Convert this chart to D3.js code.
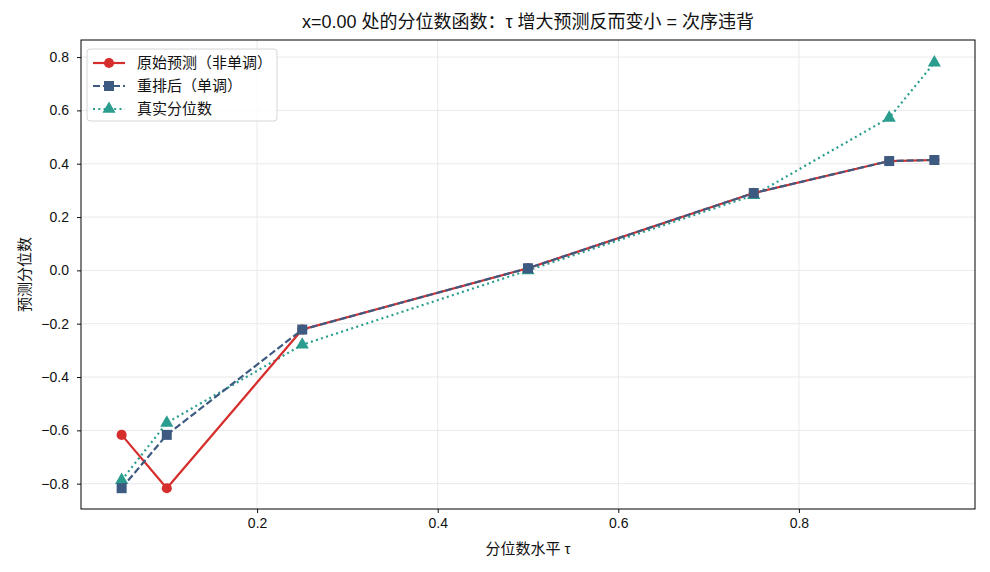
<!DOCTYPE html>
<html>
<head>
<meta charset="utf-8">
<script src="https://cdn.jsdelivr.net/npm/d3@7"></script>
<style>
  body { margin: 0; background: #fff; }
  svg { font-family: "Liberation Sans", "Noto Sans CJK SC", sans-serif; }
</style>
</head>
<body>
<div id="chart"></div>
<script>
// quantile levels and the three curves at x = 0
var taus = [0.05, 0.1, 0.25, 0.5, 0.75, 0.9, 0.95];
var rawPred = [-0.617, -0.817, -0.222, 0.008, 0.290, 0.410, 0.414];
var sortedPred = [-0.817, -0.617, -0.222, 0.008, 0.290, 0.410, 0.414];
var trueQ = [-0.787, -0.572, -0.279, 0.0, 0.282, 0.572, 0.779];

var xTicks = [0.2, 0.4, 0.6, 0.8];
var yTicks = [-0.8, -0.6, -0.4, -0.2, 0.0, 0.2, 0.4, 0.6, 0.8];

var W = 990, H = 572;
var margin = {top: 40, right: 15, bottom: 63, left: 81},
  width = W - margin.left - margin.right,
  height = H - margin.top - margin.bottom;

var x = d3.scaleLinear().domain([0.005, 0.995]).range([0, width]);
var y = d3.scaleLinear().domain([-0.895, 0.864]).range([height, 0]);

var svg = d3.select("#chart").append("svg")
  .attr("width", W)
  .attr("height", H);

var g = svg.append("g")
  .attr("transform", "translate(" + margin.left + "," + margin.top + ")");

// grid
g.append("g")
  .selectAll("line")
  .data(xTicks)
  .enter().append("line")
    .attr("x1", d => x(d)).attr("x2", d => x(d))
    .attr("y1", 0).attr("y2", height)
    .attr("stroke", "#e3e3e3").attr("stroke-width", 0.8);
g.append("g")
  .selectAll("line")
  .data(yTicks)
  .enter().append("line")
    .attr("y1", d => y(d)).attr("y2", d => y(d))
    .attr("x1", 0).attr("x2", width)
    .attr("stroke", "#e3e3e3").attr("stroke-width", 0.8);

// axes
var xAxis = g.append("g")
  .attr("transform", "translate(0," + height + ")")
  .call(d3.axisBottom(x).tickValues(xTicks).tickFormat(d3.format(".1f")).tickSize(4).tickPadding(5));
var yAxis = g.append("g")
  .call(d3.axisLeft(y).tickValues(yTicks)
    .tickFormat(d => d3.format(".1f")(d).replace("-", "\u2212")).tickSize(4).tickPadding(8));
[xAxis, yAxis].forEach(a => {
  a.select(".domain").remove();
  a.selectAll("text").style("font-size", "14px").attr("fill", "#111");
  a.selectAll("line").attr("stroke", "#111");
});

g.append("rect")
  .attr("width", width)
  .attr("height", height)
  .attr("fill", "none")
  .attr("stroke", "#000")
  .attr("stroke-width", 1);

// series
var series = [
  {name: "真实分位数", vals: trueQ, color: "#2a9d8f", dash: "2,3.3", marker: "triangle"},
  {name: "原始预测（非单调）", vals: rawPred, color: "#d62d2d", dash: null, marker: "circle"},
  {name: "重排后（单调）", vals: sortedPred, color: "#3d5a80", dash: "7,3", marker: "square"}
];

var symbols = {
  circle: d3.symbol().type(d3.symbolCircle).size(80),
  square: d3.symbol().type(d3.symbolSquare).size(100),
  triangle: d3.symbol().type(d3.symbolTriangle).size(75)
};

var line = d3.line()
  .x((d, i) => x(taus[i]))
  .y(d => y(d));

series.forEach(s => {
  g.append("path")
    .datum(s.vals)
    .attr("d", line)
    .attr("fill", "none")
    .attr("stroke", s.color)
    .attr("stroke-width", 2.2)
    .attr("stroke-dasharray", s.dash);
  g.selectAll(null)
    .data(s.vals)
    .enter().append("path")
      .attr("d", symbols[s.marker])
      .attr("transform", (d, i) => "translate(" + x(taus[i]) + "," + y(d) + ")")
      .attr("fill", s.color);
});

// legend
var legendOrder = [series[1], series[2], series[0]];
var lg = g.append("g").attr("transform", "translate(6,9)");
lg.append("rect")
  .attr("width", 190).attr("height", 72).attr("rx", 3)
  .attr("fill", "#fff").attr("fill-opacity", 0.85)
  .attr("stroke", "#d6d6d6");
legendOrder.forEach((s, i) => {
  var yy = 14 + i * 23;
  lg.append("line")
    .attr("x1", 6).attr("x2", 38).attr("y1", yy).attr("y2", yy)
    .attr("stroke", s.color).attr("stroke-width", 2.2)
    .attr("stroke-dasharray", s.dash);
  lg.append("path")
    .attr("d", symbols[s.marker])
    .attr("transform", "translate(22," + yy + ")")
    .attr("fill", s.color);
  lg.append("text")
    .attr("x", 50).attr("y", yy)
    .attr("dy", "0.35em")
    .style("font-size", "15px")
    .attr("fill", "#111")
    .text(s.name);
});

// titles
svg.append("text")
  .attr("x", margin.left + width / 2)
  .attr("y", 28)
  .style("text-anchor", "middle")
  .style("font-size", "18px")
  .attr("fill", "#111")
  .text("x=0.00 处的分位数函数：τ 增大预测反而变小 = 次序违背");

svg.append("text")
  .attr("x", margin.left + width / 2)
  .attr("y", 554)
  .style("text-anchor", "middle")
  .style("font-size", "15px")
  .attr("fill", "#111")
  .text("分位数水平 τ");

svg.append("text")
  .attr("transform", "rotate(-90)")
  .attr("x", -(margin.top + height / 2))
  .attr("y", 30)
  .style("text-anchor", "middle")
  .style("font-size", "15px")
  .attr("fill", "#111")
  .text("预测分位数");
</script>
</body>
</html>
